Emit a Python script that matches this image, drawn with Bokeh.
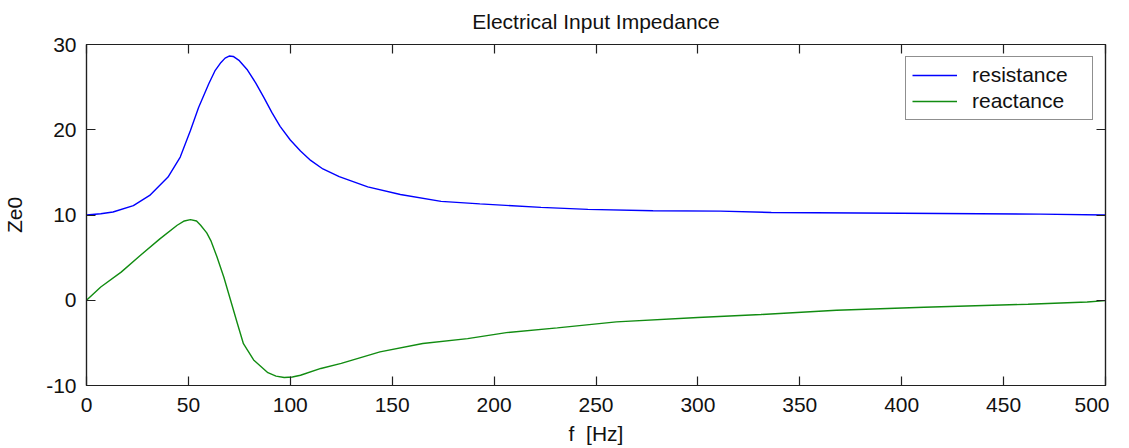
from bokeh.plotting import figure
from bokeh.models import (Range1d, LinearAxis, SingleIntervalTicker, Legend, LegendItem,
                          CustomJSTickFormatter)
from bokeh.embed import file_html
from bokeh.resources import INLINE

# ---- data ----
res_f = [0, 7, 13, 23, 31, 40, 46, 51, 55, 60, 63, 66, 68, 70, 72, 75, 79, 83, 87, 91, 95, 100,
         105, 110, 116, 124, 138, 154, 174, 193, 223, 246, 278, 311, 336, 400, 468, 500]
res_v = [10.0, 10.15, 10.35, 11.1, 12.3, 14.45, 16.8, 19.9, 22.6, 25.4, 26.9, 27.9, 28.4, 28.65, 28.6,
         28.1, 27.0, 25.5, 23.8, 22.0, 20.4, 18.8, 17.5, 16.4, 15.4, 14.5, 13.3, 12.4, 11.6, 11.3,
         10.9, 10.66, 10.5, 10.45, 10.3, 10.2, 10.1, 10.0]

rea_f = [0, 7, 17, 26.5, 36, 44.5, 48, 51, 54, 56, 59, 61, 64, 67.4, 70.7, 74, 77, 82, 89, 93, 97,
         101, 105, 115, 125, 144, 165, 187, 206, 231, 260, 300, 331, 368, 411, 462, 491, 500]
rea_v = [0, 1.56, 3.3, 5.27, 7.2, 8.8, 9.3, 9.45, 9.3, 8.8, 7.9, 7.0, 5.1, 2.7, 0, -2.7, -5.1, -7.0,
         -8.5, -8.9, -9.06, -9.0, -8.8, -8.0, -7.4, -6.05, -5.08, -4.5, -3.8, -3.24, -2.54,
         -2.03, -1.68, -1.17, -0.82, -0.47, -0.2, -0.05]

series_names = ["resistance", "reactance"]
x_ticks_interval = 50
y_ticks_interval = 10

FONT = "Liberation Sans"
FS = "21px"
INK = "#202020"

p = figure(frame_width=1019, frame_height=341,
           x_range=Range1d(0, 500), y_range=Range1d(-10, 30),
           output_backend="svg", toolbar_location=None,
           min_border_left=78, min_border_right=0, min_border_top=41, min_border_bottom=0,
           title="Electrical Input Impedance")

p.background_fill_color = "white"
p.border_fill_color = "white"
p.outline_line_color = INK
p.outline_line_width = 1.2
p.grid.grid_line_color = None

p.title.align = "center"
p.title.text_font = FONT
p.title.text_font_size = FS
p.title.text_font_style = "normal"
p.title.text_color = "#111111"
p.title.standoff = 15

plain = CustomJSTickFormatter(code="return tick.toString();")

def style_axis(ax, labels=True):
    ax.major_tick_in = 9
    ax.major_tick_out = 0
    ax.minor_tick_line_color = None
    ax.axis_line_color = INK
    ax.axis_line_width = 1.2
    ax.major_tick_line_color = INK
    ax.major_tick_line_width = 1.2
    ax.major_label_text_font = FONT
    if labels:
        ax.major_label_text_font_size = FS
        ax.major_label_text_color = "#111111"
        ax.formatter = plain
    else:
        ax.major_label_text_font_size = "1px"
        ax.major_label_text_color = None
        ax.major_label_standoff = 0

p.xaxis.ticker = SingleIntervalTicker(interval=x_ticks_interval)
p.yaxis.ticker = SingleIntervalTicker(interval=y_ticks_interval)
style_axis(p.xaxis[0])
style_axis(p.yaxis[0])
p.xaxis.major_label_standoff = 8
p.yaxis.major_label_standoff = 6

p.xaxis.axis_label = "f\u00a0 [Hz]"
p.yaxis.axis_label = "Ze0"
for ax in (p.xaxis[0], p.yaxis[0]):
    ax.axis_label_text_font = FONT
    ax.axis_label_text_font_size = FS
    ax.axis_label_text_font_style = "normal"
    ax.axis_label_text_color = "#111111"
p.xaxis.axis_label_standoff = 7
p.yaxis.axis_label_standoff = 17

top_ax = LinearAxis(ticker=SingleIntervalTicker(interval=x_ticks_interval))
right_ax = LinearAxis(ticker=SingleIntervalTicker(interval=y_ticks_interval))
style_axis(top_ax, labels=False)
style_axis(right_ax, labels=False)
p.add_layout(top_ax, "above")
p.add_layout(right_ax, "right")

r1 = p.line(res_f, res_v, line_color="#0000ff", line_width=1.4)
r2 = p.line(rea_f, rea_v, line_color="#118c11", line_width=1.4)

legend = Legend(items=[LegendItem(label=series_names[0], renderers=[r1]),
                       LegendItem(label=series_names[1], renderers=[r2])],
                location="top_right")
legend.margin = 12
legend.padding = 6
legend.spacing = 2
legend.glyph_width = 45
legend.glyph_height = 24
legend.label_height = 24
legend.label_width = 114
legend.label_standoff = 15
legend.label_text_font = FONT
legend.label_text_font_size = FS
legend.label_text_color = "#111111"
legend.border_line_color = INK
legend.border_line_width = 1.2
legend.background_fill_color = "white"
legend.background_fill_alpha = 1.0
p.add_layout(legend, "center")

open("out.html", "w").write(file_html(p, INLINE))
